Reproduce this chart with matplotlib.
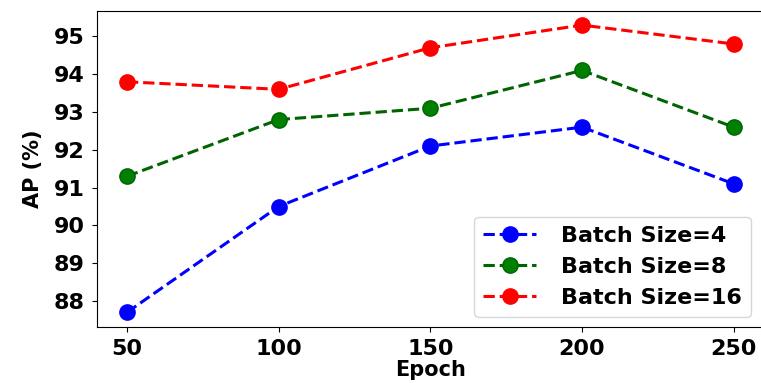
import matplotlib as mpl; mpl.use('agg')
import matplotlib.pyplot as plt

epochs = [50, 100, 150, 200, 250]
ap_bs4 = [87.7, 90.5, 92.1, 92.6, 91.1]
ap_bs8 = [91.3, 92.8, 93.1, 94.1, 92.6]
ap_bs16 = [93.8, 93.6, 94.7, 95.3, 94.8]
labels = ['Batch Size=4', 'Batch Size=8', 'Batch Size=16']
colors = ['blue', 'darkgreen', 'red']
fills = ['blue', 'green', 'red']

plt.rcParams['font.weight'] = 'bold'
fig = plt.figure(figsize=(7.61, 3.83), dpi=100)
ax = fig.add_axes([0.127, 0.147, 0.877, 0.825])

for ys, lab, c, f in zip([ap_bs4, ap_bs8, ap_bs16], labels, colors, fills):
    ax.plot(epochs, ys, linestyle='--', marker='o', color=c, markersize=11,
            linewidth=2.2, markeredgecolor=c, markerfacecolor=f, label=lab)

ax.set_xticks(epochs)
ax.set_yticks(range(88, 96))
ax.tick_params(labelsize=16, pad=5)
ax.set_xlabel('Epoch', fontsize=15, fontweight='bold', labelpad=1)
ax.set_ylabel('AP (%)', fontsize=15, fontweight='bold', labelpad=8)
ax.legend(loc='lower right', fontsize=16, bbox_to_anchor=(0.98, 0.031),
          borderaxespad=0, handlelength=2.4, handletextpad=1.1)

fig.savefig('out.png', dpi=100)
